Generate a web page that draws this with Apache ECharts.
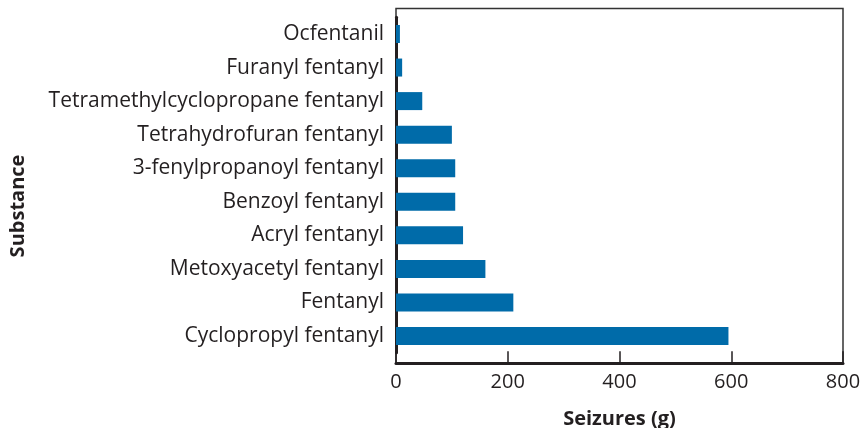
<!DOCTYPE html>
<html>
<head>
<meta charset="utf-8">
<script src="https://cdn.jsdelivr.net/npm/echarts@6/dist/echarts.min.js"></script>
<style>
  html, body { margin: 0; padding: 0; background: #fff; }
  #chart { width: 864px; height: 428px; }
</style>
</head>
<body>
<div id="chart"></div>
<script>
// bottom to top, as echarts draws a category y axis
var substances = ['Cyclopropyl fentanyl', 'Fentanyl', 'Metoxyacetyl fentanyl', 'Acryl fentanyl',
  'Benzoyl fentanyl', '3-fenylpropanoyl fentanyl', 'Tetrahydrofuran fentanyl',
  'Tetramethylcyclopropane fentanyl', 'Furanyl fentanyl', 'Ocfentanil'];
var seizures = [595, 210, 160, 120, 106, 106, 100, 47, 11, 7];
var xTicks = [0, 200, 400, 600, 800];

var chart = echarts.init(document.getElementById('chart'), null, { renderer: 'canvas' });
var font = '"Open Sans", "Noto Sans", sans-serif';
var dark = '#231f20';

var option = {
  animation: false,
  textStyle: { fontFamily: font },
  grid: [
    // frame + value axis
    { left: 396, right: 21, top: 8.5, bottom: 64.7, show: true, borderColor: '#333', borderWidth: 1.5, outerBoundsMode: 'none' },
    // bars
    { left: 396, right: 21, top: 17.2, bottom: 75.2, outerBoundsMode: 'none' }
  ],
  xAxis: [
    {
      gridIndex: 0, type: 'value', min: xTicks[0], max: xTicks[xTicks.length - 1], interval: 200,
      name: 'Seizures (g)', nameLocation: 'middle', nameGap: 46,
      nameTextStyle: { fontSize: 20, fontWeight: 'bold', color: dark, fontFamily: font },
      axisLine: { show: true, lineStyle: { color: dark, width: 3 } },
      axisTick: { show: true, inside: true, length: 12, lineStyle: { color: dark, width: 1.5 } },
      axisLabel: { fontSize: 20, color: dark, margin: 9, fontFamily: font },
      splitLine: { show: false }
    },
    { gridIndex: 1, type: 'value', min: 0, max: 800, show: false }
  ],
  yAxis: [
    { gridIndex: 0, type: 'value', show: false },
    {
      gridIndex: 1, type: 'category', data: substances,
      axisLine: { show: true, lineStyle: { color: dark, width: 3 } },
      axisTick: { show: false },
      axisLabel: { fontSize: 21, color: dark, margin: 12, fontFamily: font }
    }
  ],
  graphic: [{
    type: 'text', x: 18, y: 206, rotation: Math.PI / 2,
    style: { text: 'Substance', fill: dark, font: 'bold 20px ' + font, align: 'center', verticalAlign: 'middle' }
  }],
  series: [{
    type: 'bar', xAxisIndex: 1, yAxisIndex: 1,
    data: seizures, barWidth: 18,
    itemStyle: { color: '#006ba9' }
  }]
};

chart.setOption(option);
</script>
</body>
</html>
